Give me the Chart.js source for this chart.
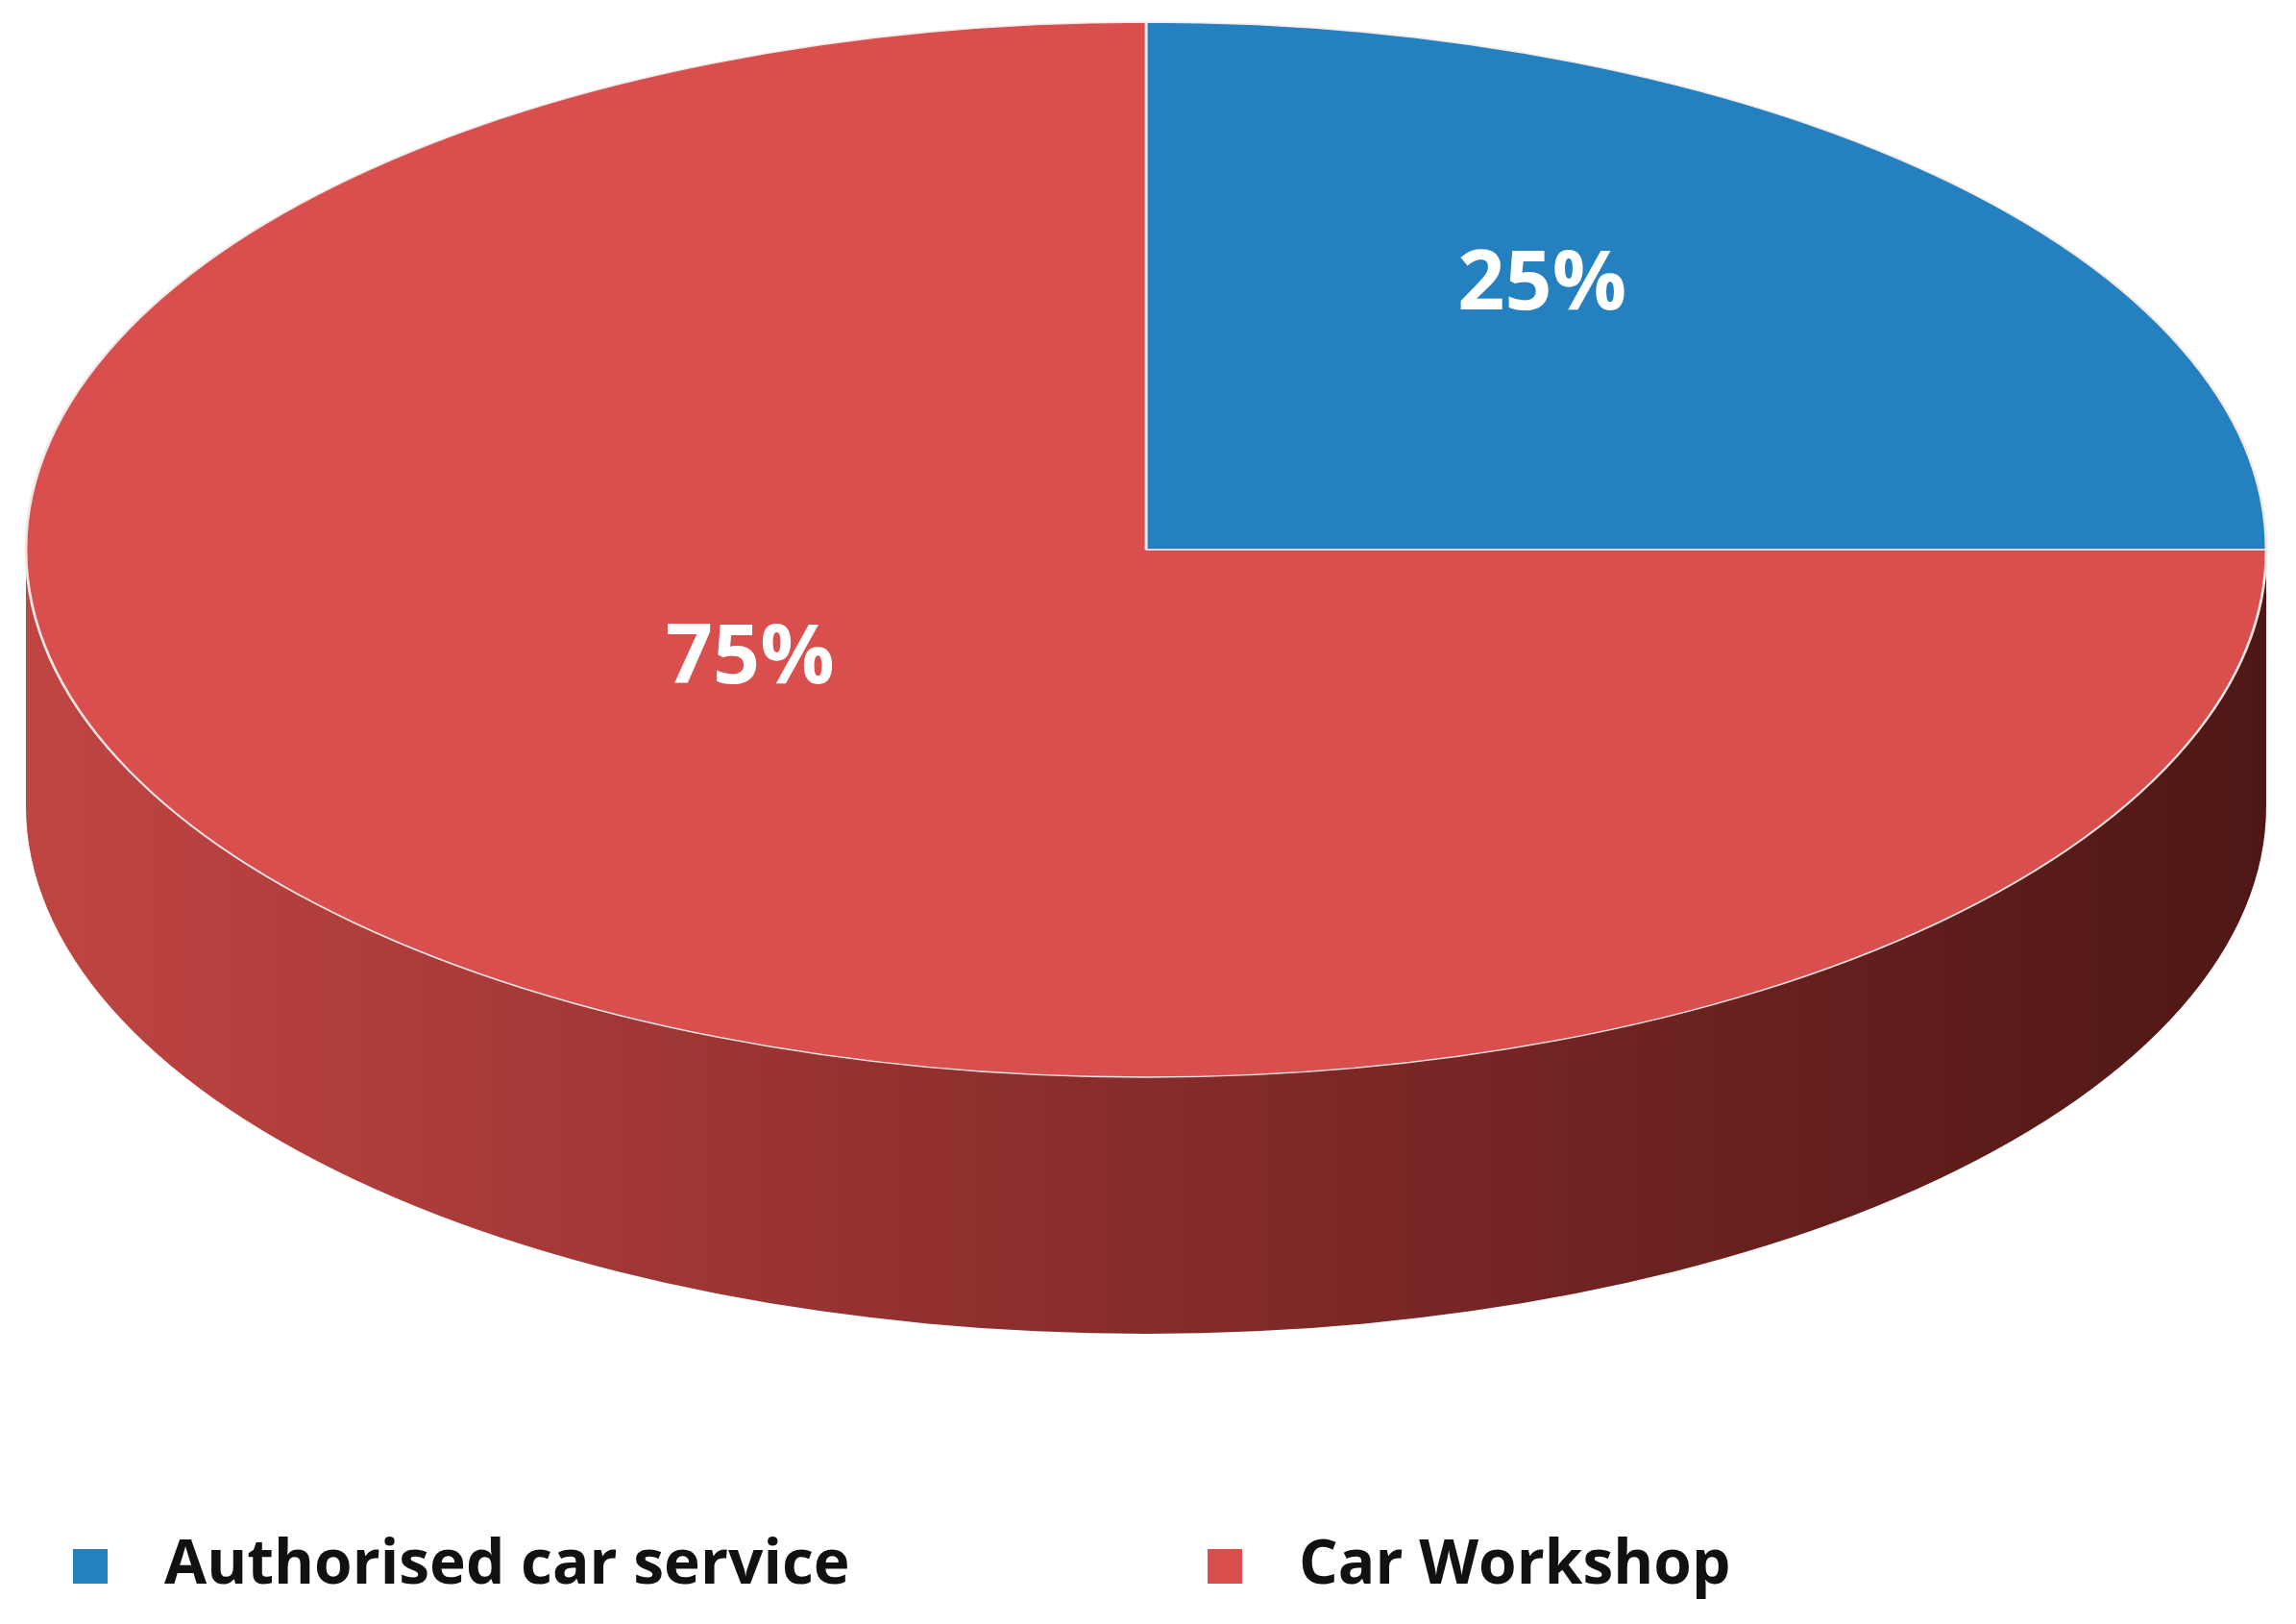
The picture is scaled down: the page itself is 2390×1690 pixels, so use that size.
<!DOCTYPE html>
<html>
<head>
<meta charset="utf-8">
<script src="https://cdn.jsdelivr.net/npm/chart.js@4"></script>
<style>
  html, body { margin: 0; background: #fff; }
  #wrap { width: 2390px; height: 1690px; }
</style>
</head>
<body>
<div id="wrap"><canvas id="grafico"></canvas></div>
<script>
const categorias = ["Authorised car service", "Car Workshop"];
const valores = [25, 75];
const colores = ["#2580c0", "#d94f4d"];

// elipse objetivo (cara superior) y grosor del lateral
const elipse = { cx: 1193, cy: 572, rx: 1166, ry: 549, fondo: 267 };
// leyenda dibujada a mano: x de cada cuadro
const leyendaX = [76, 1257];
const leyendaY = 1630;

function geom(chart) {
  const arc = chart.getDatasetMeta(0).data[0];
  return { x0: arc.x, y0: arc.y, r: arc.outerRadius };
}

const pie3d = {
  id: "pie3d",
  beforeDatasetsDraw(chart) {
    const ctx = chart.ctx;
    const { cx, cy, rx, ry, fondo } = elipse;
    ctx.save();
    const grad = ctx.createLinearGradient(cx - rx, 0, cx + rx, 0);
    grad.addColorStop(0, "#c04542");
    grad.addColorStop(0.45, "#8c2e2d");
    grad.addColorStop(1, "#4e1715");
    ctx.beginPath();
    ctx.ellipse(cx, cy, rx, ry, 0, 0, Math.PI, false);
    ctx.ellipse(cx, cy + fondo, rx, ry, 0, Math.PI, 0, true);
    ctx.closePath();
    ctx.fillStyle = grad;
    ctx.fill();
    ctx.restore();
    const g = geom(chart);
    ctx.save();
    ctx.translate(cx, cy);
    ctx.scale(rx / g.r, ry / g.r);
    ctx.translate(-g.x0, -g.y0);
  },
  afterDatasetsDraw(chart) {
    const ctx = chart.ctx;
    ctx.restore();
    const { cx, cy, rx, ry } = elipse;
    const total = valores.reduce((a, b) => a + b, 0);
    ctx.save();
    ctx.fillStyle = "#fff";
    ctx.font = "bold 86px 'Open Sans', sans-serif";
    ctx.textAlign = "center";
    ctx.textBaseline = "middle";
    chart.getDatasetMeta(0).data.forEach((arc, i) => {
      const a = (arc.startAngle + arc.endAngle) / 2;
      const x = cx + Math.cos(a) * rx * 0.5;
      const y = cy + Math.sin(a) * ry * 0.5 - 80;
      ctx.fillText(Math.round(valores[i] / total * 100) + "%", x, y);
    });
    // leyenda
    ctx.font = "bold 64px 'Open Sans', sans-serif";
    ctx.textAlign = "left";
    ctx.fillStyle = "#111";
    categorias.forEach((c, i) => {
      ctx.fillStyle = colores[i];
      ctx.fillRect(leyendaX[i], leyendaY - 18, 36, 36);
      ctx.fillStyle = "#111";
      ctx.fillText(c, leyendaX[i] + 95, leyendaY);
    });
    ctx.restore();
  }
};

new Chart(document.getElementById("grafico"), {
  type: "pie",
  data: {
    labels: categorias,
    datasets: [{
      data: valores,
      backgroundColor: colores,
      borderColor: "#f4e8e8",
      borderWidth: 2
    }]
  },
  options: {
    responsive: true,
    maintainAspectRatio: false,
    animation: false,
    plugins: {
      tooltip: { enabled: false },
      legend: { display: false }
    }
  },
  plugins: [pie3d]
});
</script>
</body>
</html>
